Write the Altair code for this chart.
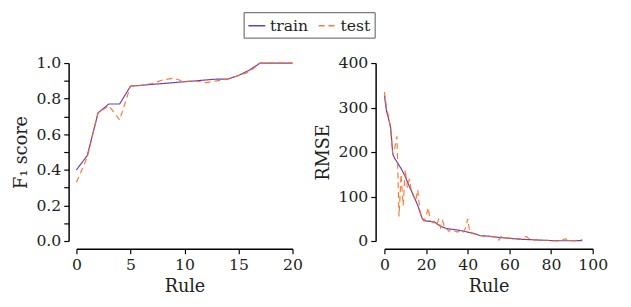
import altair as alt
import pandas as pd

# ---------------- data ----------------
series_names = ["train", "test"]
series_colors = ["#5b2d9e", "#ff6a1f"]

f1_rule = list(range(21))
f1_train = [0.40, 0.48, 0.72, 0.77, 0.77, 0.87, 0.875, 0.88, 0.885, 0.89, 0.895,
            0.90, 0.905, 0.91, 0.91, 0.93, 0.96, 1.0, 1.0, 1.0, 1.0]
f1_test = [0.33, 0.47, 0.72, 0.76, 0.68, 0.87, 0.875, 0.885, 0.905, 0.915, 0.895,
           0.90, 0.89, 0.90, 0.91, 0.93, 0.95, 1.0, 1.0, 1.0, 1.0]

rmse_train_rule = [0, 1, 2, 3, 4, 5, 6, 8, 10, 12, 14, 16, 18, 19, 20, 22, 24, 26, 28,
                   30, 33, 36, 40, 43, 46, 50, 55, 60, 65, 70, 75, 80, 85, 90, 95]
rmse_train = [327, 292, 275, 255, 195, 185, 178, 163, 145, 122, 102, 80, 52, 47, 45,
              44, 43, 36, 31, 28, 26, 24, 20, 17, 12, 11, 8, 6, 4, 3, 2, 1, 0.5, 0.5, 1]

rmse_test_rule = list(range(0, 46)) + [48, 51, 54, 55, 56, 58, 62, 66, 68, 70, 75,
                                       80, 84, 87, 88, 92, 95]
rmse_test = [335, 300, 280, 250, 195, 210, 235, 55, 150, 80, 160, 120, 140, 110, 100,
             90, 115, 70, 50, 45, 55, 75, 45, 42, 40, 35, 48, 30, 45, 28, 27, 22, 25,
             24, 22, 20, 22, 20, 20, 30, 50, 18, 17, 16, 15, 13,
             11, 10, 8, 2, 10, 7, 6, 5, 10, 3, 2, 1, 0, 5, 0, 1, 3]

f1_df = pd.concat([
    pd.DataFrame({"rule": f1_rule, "value": f1_train, "series": "train"}),
    pd.DataFrame({"rule": f1_rule, "value": f1_test, "series": "test"}),
])
rmse_df = pd.concat([
    pd.DataFrame({"rule": rmse_train_rule, "value": rmse_train, "series": "train"}),
    pd.DataFrame({"rule": rmse_test_rule, "value": rmse_test, "series": "test"}),
])

FONT = "DejaVu Serif"

color = alt.Color("series:N", scale=alt.Scale(domain=series_names, range=series_colors),
                  legend=alt.Legend(title=None))
dash = alt.StrokeDash("series:N", scale=alt.Scale(domain=series_names, range=[[1, 0], [6, 4]]),
                      legend=alt.Legend(title=None))


def panel(df, xdom, xvals, ydom, yticks, ylabels, yfmt, ytitle, yoff, xoff, width):
    x = alt.X("rule:Q", scale=alt.Scale(domain=xdom, nice=False, zero=False),
              axis=alt.Axis(values=xvals, title="Rule", offset=xoff, format="d",
                            labelFlush=False, labelOverlap=False))
    y = alt.Y("value:Q", scale=alt.Scale(domain=ydom, nice=False),
              axis=alt.Axis(values=yticks, title=ytitle, offset=yoff, format=yfmt,
                            labelOverlap=False,
                            labelExpr="indexof(" + str(ylabels) + ", datum.value) >= 0 ? datum.label : ''"))
    layers = []
    for s in series_names:
        layers.append(
            alt.Chart(df).transform_filter(alt.datum.series == s)
            .mark_line(strokeWidth=1.2, opacity=0.9)
            .encode(x=x, y=y, color=color, strokeDash=dash)
        )
    return alt.layer(*layers).properties(width=width, height=182)


left = panel(f1_df, [0, 20], [0, 5, 10, 15, 20], [0, 1],
             [0, 0.1, 0.2, 0.3, 0.4, 0.5, 0.6, 0.7, 0.8, 0.9, 1.0],
             [0, 0.2, 0.4, 0.6, 0.8, 1], ".1f", "F₁ score", 8, 8, 221)
right = panel(rmse_df, [0, 100], [0, 20, 40, 60, 80, 100], [0, 400],
              [0, 100, 200, 300, 400], [0, 100, 200, 300, 400], "d", "RMSE", 9, 8, 213)

chart = alt.hconcat(left, right, spacing=11).resolve_scale(
    color="shared", strokeDash="shared"
).properties(padding={"left": 4, "top": 0, "right": 15, "bottom": 0}).configure_view(
    stroke=None
).configure_axis(
    grid=False, domainColor="black", domainWidth=1.5, tickColor="black", tickWidth=1.2,
    tickSize=5, labelFont=FONT, labelFontSize=16, labelColor="#222", titleFont=FONT,
    titleFontSize=18, titleFontWeight="normal", titleColor="#222", labelPadding=3,
    titlePadding=6
).configure_legend(
    orient="none", direction="horizontal", legendX=171, legendY=-52,
    strokeColor="#555", padding=4, labelFont=FONT, labelFontSize=16, labelColor="#222",
    symbolType="stroke", symbolStrokeWidth=1.5, symbolSize=300, columnPadding=6,
    labelOffset=4, cornerRadius=0
)

chart.save("out.html", embed_options={"renderer": "svg", "actions": False})
